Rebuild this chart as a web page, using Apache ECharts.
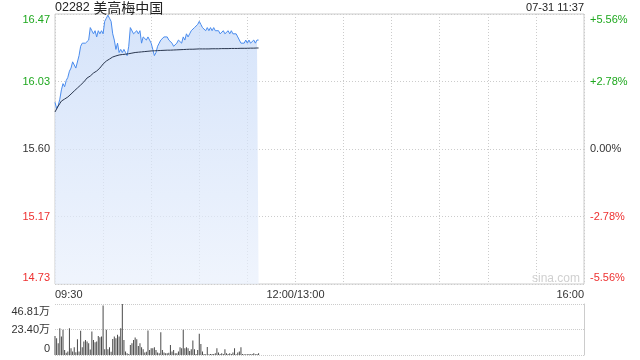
<!DOCTYPE html>
<html><head><meta charset="utf-8">
<script src="https://cdn.jsdelivr.net/npm/echarts@6/dist/echarts.min.js"></script>
<style>html,body{margin:0;padding:0;background:#fff}#c{width:640px;height:360px}</style>
</head><body><div id="c"></div>
<script>
const titleCode = '02282 ';
const titleName = '美高梅中国';
const stamp = '07-31 11:37';
const watermark = 'sina.com';
const prevClose = 15.60;

// minute prices from 09:30 to 11:37
const prices = [
15.90,15.86,15.88,15.92,15.98,16.02,16.00,16.04,16.06,16.10,
16.12,16.16,16.14,16.12,16.12,16.20,16.26,16.28,16.28,16.28,
16.28,16.30,16.38,16.36,16.34,16.36,16.32,16.36,16.34,16.36,
16.34,16.42,16.44,16.46,16.44,16.42,16.34,16.30,16.24,16.28,
16.22,16.24,16.22,16.24,16.22,16.20,16.26,16.38,16.38,16.34,
16.34,16.36,16.34,16.36,16.28,16.32,16.32,16.30,16.32,16.30,
16.28,16.24,16.20,16.22,16.26,16.28,16.30,16.30,16.32,16.32,
16.32,16.30,16.30,16.28,16.26,16.26,16.28,16.30,16.30,16.28,
16.32,16.30,16.34,16.32,16.34,16.36,16.36,16.38,16.38,16.40,
16.42,16.40,16.38,16.38,16.36,16.38,16.36,16.38,16.36,16.38,
16.36,16.36,16.36,16.34,16.34,16.36,16.34,16.34,16.36,16.34,
16.36,16.34,16.34,16.34,16.32,16.32,16.28,16.28,16.28,16.30,
16.28,16.30,16.28,16.28,16.30,16.28,16.30,16.30
];

const avgPrices = [
15.838,15.857,15.876,15.892,15.908,15.914,15.921,15.928,15.934,15.944,
15.953,15.963,15.973,15.982,15.992,16.002,16.011,16.021,16.031,16.043,
16.056,16.062,16.069,16.078,16.088,16.094,16.101,16.110,16.120,16.133,
16.146,16.155,16.165,16.171,16.178,16.184,16.191,16.194,16.198,16.201,
16.204,16.206,16.207,16.208,16.209,16.210,16.212,16.214,16.216,16.218,
16.220,16.221,16.222,16.223,16.224,16.225,16.226,16.227,16.228,16.229,
16.230,16.230,16.231,16.231,16.232,16.232,16.233,16.233,16.234,16.234,
16.235,16.235,16.235,16.236,16.236,16.237,16.237,16.238,16.238,16.239,
16.239,16.239,16.240,16.240,16.241,16.241,16.241,16.242,16.242,16.243,
16.243,16.243,16.243,16.243,16.243,16.243,16.243,16.244,16.244,16.244,
16.244,16.244,16.244,16.245,16.245,16.245,16.245,16.245,16.245,16.246,
16.246,16.246,16.246,16.246,16.246,16.247,16.247,16.247,16.247,16.247,
16.247,16.248,16.248,16.248,16.248,16.249,16.249,16.249
];

// volume per minute, in 万
const volumes = [
17.5,15.4,10.8,24.6,16.9,23.1,4.6,2.0,3.1,24.6,
6.2,3.1,7.1,2.5,14.5,3.1,22.2,7.1,12.3,13.8,
12.3,10.8,5.0,21.5,13.8,11.7,12.3,17.5,16.3,16.9,
45.5,5.2,23.1,5.2,7.1,3.0,14.8,16.9,15.4,18.5,
16.9,24.6,46.81,13.8,3.1,1.5,1.0,9.2,10.8,13.8,
16.0,14.5,8.3,10.8,7.1,5.2,2.2,3.0,22.5,4.6,
6.2,6.2,7.1,4.6,2.2,1.5,20.9,4.6,2.2,1.5,
1.5,2.0,9.2,3.1,4.6,1.5,1.5,3.1,7.1,6.2,
23.1,6.2,7.1,6.2,3.7,5.2,13.2,5.2,0.9,4.6,
19.4,10.2,3.1,0.9,0.6,7.4,0.6,0.9,0.9,0.9,
1.5,6.2,2.2,0.9,1.5,0.9,5.2,1.5,0.9,1.5,
0.9,2.2,6.2,0.6,2.2,3.1,7.1,0.9,0.6,0.6,
0.6,0.9,0.6,0.9,1.5,0.6,0.9,1.5
];

const priceTickLabels = ['14.73','15.17','15.60','16.03','16.47'];
const pctTickLabels = ['-5.56%','-2.78%','0.00%','+2.78%','+5.56%'];
const volTickLabels = ['0','23.40万','46.81万'];
const timeTickLabels = {0:'09:30',150:'12:00/13:00',330:'16:00'};
const pctMax = 5.56, pctStep = 2.78;
const volMax = 46.81;
const totalMinutes = 330;

const GREEN = '#1ea81e', RED = '#ee3030', DARK = '#333333', GRID = '#cccccc';
const FONT = 'Arial, "Liberation Sans", "Noto Sans CJK SC", sans-serif';

const pctOf = p => (p - prevClose) / prevClose * 100;
const priceData = prices.map((p, i) => [i, pctOf(p)]);
const avgData = avgPrices.map((p, i) => [i, pctOf(p)]);
const volData = volumes.map((v, i) => [i, v]);

function idxOfPct(v){ return Math.round((v + pctMax) / pctStep); }
const styleKeys = ['rb','r','n','g','gt'];
const lbl = (c, pad) => ({color:c, fontSize:11, fontFamily:FONT, padding:pad});
const richPct = {
  rb: lbl(RED,[0,0,13,0]), r: lbl(RED,[0,0,0,0]), n: lbl(DARK,[0,0,0,0]),
  g: lbl(GREEN,[0,0,0,0]), gt: lbl(GREEN,[11,0,0,0])
};
const richVol = {
  b: lbl(DARK,[0,0,13,0]), m: lbl(DARK,[0,0,0,0]), t: lbl(DARK,[15,0,0,0])
};

const chart = echarts.init(document.getElementById('c'), null, {renderer:'canvas'});
chart.setOption({
  animation:false,
  backgroundColor:'#fff',
  grid:[
    {left:55, top:14, width:529, height:270, show:true, borderColor:GRID, borderWidth:1},
    {left:55, top:304, width:529, height:51}
  ],
  xAxis:[
    {gridIndex:0, type:'value', min:0, max:totalMinutes, interval:30,
     axisLine:{show:false}, axisTick:{show:false},
     splitLine:{show:true, lineStyle:{color:GRID, type:[1,2]}},
     axisLabel:{show:true, margin:5, color:DARK, fontSize:11, fontFamily:FONT,
       showMinLabel:true, showMaxLabel:true, alignMinLabel:'left', alignMaxLabel:'right',
       formatter:v => timeTickLabels[Math.round(v)] || ''}},
    {gridIndex:1, type:'value', min:0, max:totalMinutes, interval:30,
     axisLine:{show:false}, axisTick:{show:false}, splitLine:{show:false}, axisLabel:{show:false}}
  ],
  yAxis:[
    {gridIndex:0, type:'value', min:-pctMax, max:pctMax, interval:pctStep, position:'left',
     axisLine:{show:false}, axisTick:{show:false},
     splitLine:{show:true, lineStyle:{color:GRID, type:[1,2]}},
     axisLabel:{margin:5, fontSize:11, fontFamily:FONT, rich:richPct,
       formatter:v => { const i = idxOfPct(v); return '{' + styleKeys[i] + '|' + priceTickLabels[i] + '}'; }}},
    {gridIndex:0, type:'value', min:-pctMax, max:pctMax, interval:pctStep, position:'right',
     axisLine:{show:false}, axisTick:{show:false}, splitLine:{show:false},
     axisLabel:{margin:6, fontSize:11, fontFamily:FONT, rich:richPct,
       formatter:v => { const i = idxOfPct(v); return '{' + styleKeys[i] + '|' + pctTickLabels[i] + '}'; }}},
    {gridIndex:1, type:'value', min:0, max:volMax, interval:volMax/2, position:'left',
     axisLine:{show:false}, axisTick:{show:false},
     splitLine:{show:true, lineStyle:{color:GRID, type:[1,1]}},
     axisLabel:{margin:5, fontSize:11, fontFamily:FONT, rich:richVol,
       formatter:v => { const i = Math.round(v / (volMax/2)); return '{' + ['b','m','t'][i] + '|' + volTickLabels[i] + '}'; }}},
    {gridIndex:1, type:'value', min:0, max:volMax, position:'right',
     axisLine:{show:true, lineStyle:{color:GRID}}, axisTick:{show:false},
     splitLine:{show:false}, axisLabel:{show:false}}
  ],
  series:[
    {type:'line', xAxisIndex:0, yAxisIndex:0, data:priceData, showSymbol:false, symbol:'none',
     lineStyle:{color:'#4a8cee', width:1},
     areaStyle:{origin:'start', color:new echarts.graphic.LinearGradient(0,0,0,1,[
       {offset:0, color:'#c4d8f8'},{offset:1, color:'#e9f0fc'}])},
     z:2},
    {type:'line', xAxisIndex:0, yAxisIndex:0, data:avgData, showSymbol:false, symbol:'none',
     lineStyle:{color:'#2b3850', width:1}, z:3},
    {type:'bar', xAxisIndex:1, yAxisIndex:2, data:volData, barWidth:1,
     itemStyle:{color:'#4a4a4a'}}
  ],
  graphic:[
    {type:'text', left:55, top:1, style:{
      text:'{a|' + titleCode + '}{b|' + titleName + '}',
      rich:{a:{fontSize:12.5, fontFamily:FONT, fill:'#222', color:'#222'},
            b:{fontSize:14, fontFamily:'"Noto Sans CJK SC", sans-serif', fill:'#222', color:'#222'}}}},
    {type:'text', right:56, top:2, style:{text:stamp, fontSize:11, fontFamily:FONT, fill:'#222'}},
    {type:'text', left:532, top:273, style:{text:watermark, fontSize:12, fontFamily:FONT, fill:'#d0d0d0'}}
  ]
});
</script>
</body></html>
